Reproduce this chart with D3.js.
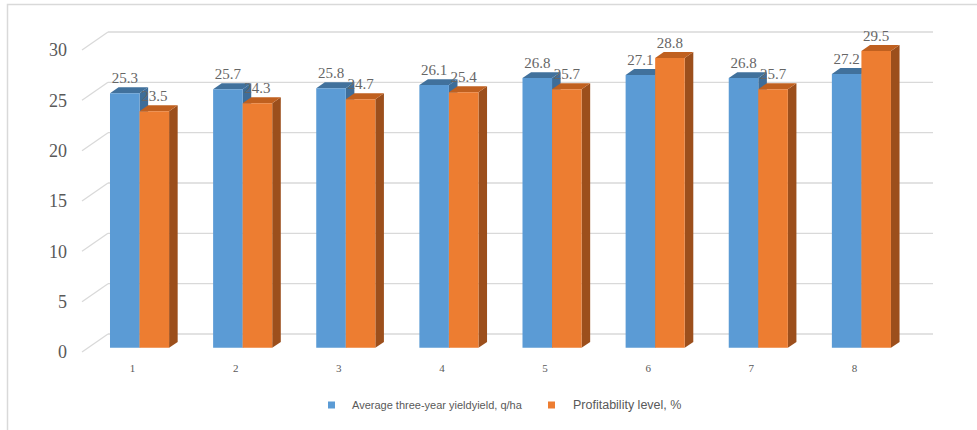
<!DOCTYPE html>
<html>
<head>
<meta charset="utf-8">
<script src="https://cdn.jsdelivr.net/npm/d3@7"></script>
<style>
  html, body { margin: 0; padding: 0; background: #ffffff; }
  svg { display: block; }
</style>
</head>
<body>
<svg id="chart" width="977" height="430"></svg>
<script>
// Data
const categories = ["1", "2", "3", "4", "5", "6", "7", "8"];
const seriesNames = ["Average three-year yieldyield, q/ha", "Profitability level, %"];
const yieldValues = [25.3, 25.7, 25.8, 26.1, 26.8, 27.1, 26.8, 27.2];
const profitValues = [23.5, 24.3, 24.7, 25.4, 25.7, 28.8, 25.7, 29.5];
const yTicks = [0, 5, 10, 15, 20, 25, 30];

const seriesValues = [yieldValues, profitValues];
const palette = [
  { front: "#5b9bd5", top: "#41719c", side: "#3e6d99" },
  { front: "#ed7d31", top: "#c0601f", side: "#9c4f1c" }
];

const svg = d3.select("#chart");

// Outer frame
svg.append("rect")
  .attr("x", 7.5).attr("y", 4.5)
  .attr("width", 1000).attr("height", 500)
  .attr("fill", "none").attr("stroke", "#d9d9d9").attr("stroke-width", 1.5);

// Scales (front plane)
const x0 = d3.scaleBand().domain(categories).range([82, 907]).padding(0);
const x1 = d3.scaleBand().domain(seriesNames).range([0, x0.bandwidth()])
  .paddingInner(0).paddingOuter(0.745);
const y = d3.scaleLinear().domain([0, 30]).range([352, 50]);

// Oblique projection of depth: t = 0 front plane, t = 1 back wall
const depthDX = 26, depthDY = -18;
const proj = (px, py, t) => [px + depthDX * t, py + depthDY * t];
const tFront = 0.23, tBack = 0.56;

// Back wall gridlines and the floor-side diagonals
const grid = svg.append("g").attr("class", "grid");
yTicks.forEach(v => {
  const [bx0, by] = proj(x0.range()[0], y(v), 1);
  const [bx1] = proj(x0.range()[1], y(v), 1);
  grid.append("line")
    .attr("x1", bx0).attr("y1", by).attr("x2", bx1).attr("y2", by)
    .attr("stroke", "#d9d9d9").attr("stroke-width", 1.3);
  grid.append("line")
    .attr("x1", x0.range()[0]).attr("y1", y(v)).attr("x2", bx0).attr("y2", by)
    .attr("stroke", "#d9d9d9").attr("stroke-width", 1.3);
});

// Y axis labels
svg.append("g").selectAll("text").data(yTicks).join("text")
  .attr("x", 67).attr("y", d => y(d))
  .attr("dy", "0.35em")
  .attr("text-anchor", "end")
  .attr("font-family", "'Liberation Serif', 'Times New Roman', serif")
  .attr("font-size", 18)
  .attr("fill", "#595959")
  .text(d => d);

// 3D bars
const bars = svg.append("g").attr("class", "bars");
const poly = pts => pts.map(p => p.join(",")).join(" ");

categories.forEach((c, i) => {
  seriesNames.forEach((s, k) => {
    const v = seriesValues[k][i];
    const bx = x0(c) + x1(s);
    const bw = x1.bandwidth();
    const yt = y(v), yb = y(0);
    const fTL = proj(bx, yt, tFront), fTR = proj(bx + bw, yt, tFront);
    const fBL = proj(bx, yb, tFront), fBR = proj(bx + bw, yb, tFront);
    const bTL = proj(bx, yt, tBack), bTR = proj(bx + bw, yt, tBack);
    const bBR = proj(bx + bw, yb, tBack);
    const col = palette[k];
    // side face
    bars.append("polygon")
      .attr("points", poly([fTR, bTR, bBR, fBR]))
      .attr("fill", col.side);
    // top face
    bars.append("polygon")
      .attr("points", poly([fTL, bTL, bTR, fTR]))
      .attr("fill", col.top);
    // front face
    bars.append("polygon")
      .attr("points", poly([fTL, fTR, fBR, fBL]))
      .attr("fill", col.front);
  });
});

// Value labels
const labels = svg.append("g").attr("class", "labels");
categories.forEach((c, i) => {
  seriesNames.forEach((s, k) => {
    const v = seriesValues[k][i];
    const [lx, ly] = proj(x0(c) + x1(s) + x1.bandwidth() / 2, y(v), tFront);
    labels.append("text")
      .attr("x", lx).attr("y", ly - 10)
      .attr("text-anchor", "middle")
      .attr("font-family", "'Liberation Serif', 'Times New Roman', serif")
      .attr("font-size", 15)
      .attr("fill", "#666666")
      .text(v.toFixed(1));
  });
});

// Category labels
svg.append("g").selectAll("text").data(categories).join("text")
  .attr("x", d => x0(d) + x0.bandwidth() / 2 - 1)
  .attr("y", 372)
  .attr("text-anchor", "middle")
  .attr("font-family", "'Liberation Serif', 'Times New Roman', serif")
  .attr("font-size", 11)
  .attr("fill", "#595959")
  .text(d => d);

// Legend
const legendItems = [
  { name: seriesNames[0], color: palette[0].front, x: 328, tx: 352, size: 11 },
  { name: seriesNames[1], color: palette[1].front, x: 548, tx: 573, size: 12.5 }
];
const legend = svg.append("g").attr("class", "legend");
legendItems.forEach(it => {
  legend.append("rect")
    .attr("x", it.x).attr("y", 401.5).attr("width", 7).attr("height", 7)
    .attr("fill", it.color);
  legend.append("text")
    .attr("x", it.tx).attr("y", 405)
    .attr("dy", "0.35em")
    .attr("font-family", "'Liberation Sans', Arial, sans-serif")
    .attr("font-size", it.size)
    .attr("fill", "#595959")
    .text(it.name);
});
</script>
</body>
</html>
